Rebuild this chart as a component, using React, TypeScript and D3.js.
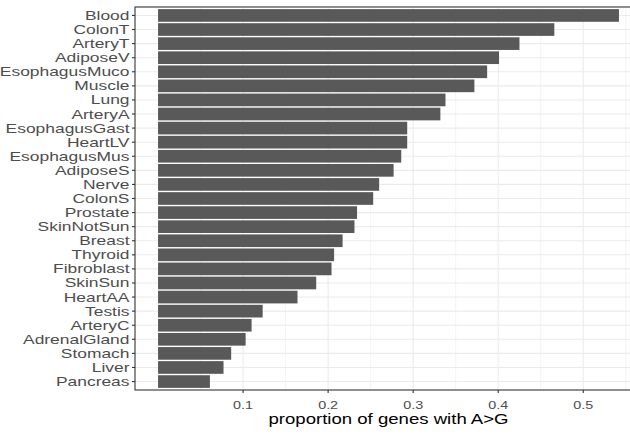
import * as d3 from "d3";

const tissues = [
  "Blood", "ColonT", "ArteryT", "AdiposeV", "EsophagusMuco", "Muscle", "Lung",
  "ArteryA", "EsophagusGast", "HeartLV", "EsophagusMus", "AdiposeS", "Nerve",
  "ColonS", "Prostate", "SkinNotSun", "Breast", "Thyroid", "Fibroblast",
  "SkinSun", "HeartAA", "Testis", "ArteryC", "AdrenalGland", "Stomach",
  "Liver", "Pancreas",
];
const proportions = [
  0.542, 0.466, 0.425, 0.401, 0.387, 0.372, 0.338, 0.332, 0.293, 0.293,
  0.286, 0.277, 0.26, 0.253, 0.234, 0.231, 0.217, 0.207, 0.204, 0.186,
  0.164, 0.123, 0.11, 0.103, 0.086, 0.077, 0.061,
];
const majorTicks = [0.1, 0.2, 0.3, 0.4, 0.5];
const minorTicks = [0.05, 0.15, 0.25, 0.35, 0.45, 0.55];
const xTitle = "proportion of genes with A>G";

const W = 630;
const H = 438;
const left = 135;
const right = 642;
const top = 7;
const bottom = 390;

export default function App() {
  const maxV = d3.max(proportions) as number;
  const pad = maxV * 0.05;
  const x = d3.scaleLinear().domain([-pad, maxV + pad]).range([left, right]);
  const y = d3
    .scaleBand()
    .domain(tissues)
    .range([top, bottom])
    .paddingInner(0.1)
    .paddingOuter(0.15);
  const yc = (t: string) => (y(t) as number) + y.bandwidth() / 2;

  return (
    <svg
      width={W}
      height={H}
      style={{ position: "absolute", left: 0, top: 0, background: "#fff" }}
      fontFamily="'Liberation Sans', Arial, sans-serif"
    >
      {/* grid */}
      {minorTicks.map((t) => (
        <line key={"mn" + t} x1={x(t)} x2={x(t)} y1={top} y2={bottom} stroke="#ebebeb" strokeWidth={0.6} />
      ))}
      {majorTicks.map((t) => (
        <line key={"mj" + t} x1={x(t)} x2={x(t)} y1={top} y2={bottom} stroke="#ebebeb" strokeWidth={1.1} />
      ))}
      {tissues.map((t) => (
        <line key={"gy" + t} x1={left} x2={right} y1={yc(t)} y2={yc(t)} stroke="#ebebeb" strokeWidth={1.1} />
      ))}

      {/* bars */}
      {tissues.map((t, i) => (
        <rect
          key={t}
          x={x(0)}
          y={y(t)}
          width={x(proportions[i]) - x(0)}
          height={y.bandwidth()}
          fill="#595959"
        />
      ))}

      {/* panel border */}
      <rect x={left} y={top} width={right - left} height={bottom - top} fill="none" stroke="#333" strokeWidth={1.1} />

      {/* y axis */}
      {tissues.map((t) => (
        <g key={"yl" + t}>
          <line x1={left - 3} x2={left} y1={yc(t)} y2={yc(t)} stroke="#333" strokeWidth={1.1} />
          <text
            transform={`translate(${left - 5.5},${yc(t) + 4.5}) scale(1.34,1)`}
            textAnchor="end"
            fontSize={13}
            fill="#4d4d4d"
          >
            {t}
          </text>
        </g>
      ))}

      {/* x axis */}
      {majorTicks.map((t) => (
        <g key={"xl" + t}>
          <line x1={x(t)} x2={x(t)} y1={bottom} y2={bottom + 3} stroke="#333" strokeWidth={1.1} />
          <text
            transform={`translate(${x(t)},${bottom + 18.5}) scale(1.25,1)`}
            textAnchor="middle"
            fontSize={11.5}
            fill="#4d4d4d"
          >
            {d3.format(".1f")(t)}
          </text>
        </g>
      ))}
      <text
        transform={`translate(${(left + right) / 2},${bottom + 34}) scale(1.24,1)`}
        textAnchor="middle"
        fontSize={15}
        fill="#000"
      >
        {xTitle}
      </text>
    </svg>
  );
}
